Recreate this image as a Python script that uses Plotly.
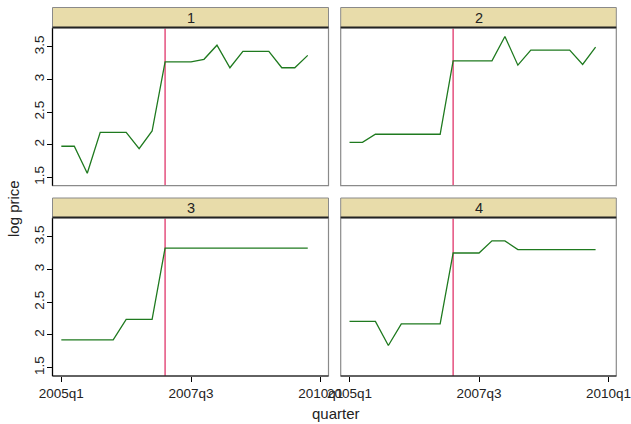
import plotly.graph_objects as go

W, H = 631, 424

quarters = ["2005q1","2005q2","2005q3","2005q4","2006q1","2006q2","2006q3","2006q4",
            "2007q1","2007q2","2007q3","2007q4","2008q1","2008q2","2008q3","2008q4",
            "2009q1","2009q2","2009q3","2009q4"]
panel_names = ["1", "2", "3", "4"]
series_1 = [1.976, 1.976, 1.561, 2.19, 2.19, 2.19, 1.94, 2.21, 3.27, 3.27,
            3.27, 3.31, 3.526, 3.18, 3.43, 3.43, 3.43, 3.18, 3.18, 3.37]
series_2 = [2.037, 2.037, 2.16, 2.16, 2.16, 2.16, 2.16, 2.16, 3.285, 3.285,
            3.285, 3.285, 3.66, 3.22, 3.45, 3.45, 3.45, 3.45, 3.23, 3.495]
series_3 = [1.925, 1.925, 1.925, 1.925, 1.925, 2.237, 2.237, 2.237, 3.33, 3.33,
            3.33, 3.33, 3.33, 3.33, 3.33, 3.33, 3.33, 3.33, 3.33, 3.33]
series_4 = [2.206, 2.206, 2.206, 1.838, 2.17, 2.17, 2.17, 2.17, 3.254, 3.254,
            3.254, 3.44, 3.44, 3.306, 3.306, 3.306, 3.306, 3.306, 3.306, 3.306]
event_quarter = "2007q1"
x_tick_labels = ["2005q1", "2007q3", "2010q1"]
x_tick_pos = [0, 10, 20]
y_tick_vals = [1.5, 2, 2.5, 3, 3.5]
y_tick_labels = ["1.5", "2", "2.5", "3", "3.5"]

all_series = [series_1, series_2, series_3, series_4]
xidx = list(range(len(quarters)))
event_idx = quarters.index(event_quarter)

FONT = "Liberation Sans, Arial, sans-serif"
GREEN = "#1f7a1f"
RED = "#e0356a"
STRIP = "#e8dcaa"
GRAY = "#8a8a8a"

# panel pixel boxes: (x0, x1, plot_top, plot_bottom, strip_top)
boxes = [
    (52.5, 328.5, 28, 185.7, 7.5),
    (340.7, 616.3, 28, 185.7, 7.5),
    (52.5, 328.5, 218, 376, 198),
    (340.7, 616.3, 218, 376, 198),
]

def px(x):
    return x / W

def py(y):
    return 1 - y / H

fig = go.Figure()
shapes = []
annotations = []

for k, (s, box) in enumerate(zip(all_series, boxes)):
    n = k + 1
    x0, x1, top, bot, stop = box
    xa = "xaxis" if n == 1 else f"xaxis{n}"
    ya = "yaxis" if n == 1 else f"yaxis{n}"
    xr = "x" if n == 1 else f"x{n}"
    yr = "y" if n == 1 else f"y{n}"
    fig.add_trace(go.Scatter(x=xidx, y=s, mode="lines", xaxis=xr, yaxis=yr,
                             line=dict(color=GREEN, width=1.3), showlegend=False,
                             hoverinfo="skip"))
    bottom_row = k >= 2
    left_col = k % 2 == 0
    fig.layout[xa] = dict(
        domain=[px(x0), px(x1)], anchor=yr, range=[-0.68, 20.6],
        showgrid=False, zeroline=False, showline=False,
        tickmode="array", tickvals=x_tick_pos, ticktext=x_tick_labels,
        showticklabels=bottom_row, ticks="outside" if bottom_row else "",
        ticklen=5, tickcolor="black", tickwidth=1,
        tickfont=dict(family=FONT, size=13.5, color="#222"),
        ticklabeloverflow="allow",
        automargin=False, fixedrange=True,
    )
    fig.layout[ya] = dict(
        domain=[py(bot), py(top)], anchor=xr, range=[1.371, 3.79],
        showgrid=False, zeroline=False, showline=False,
        tickmode="array", tickvals=y_tick_vals, ticktext=y_tick_labels,
        showticklabels=left_col, ticks="outside" if left_col else "",
        ticklen=5, tickcolor="black", tickwidth=1, tickangle=-90,
        tickfont=dict(family=FONT, size=13.5, color="#222"),
        ticklabeloverflow="allow", ticklabelstandoff=-3,
        automargin=False, fixedrange=True,
    )
    # panel frame
    shapes.append(dict(type="rect", xref="paper", yref="paper",
                       x0=px(x0), x1=px(x1), y0=py(bot), y1=py(top),
                       line=dict(color=GRAY, width=1.2), fillcolor="rgba(0,0,0,0)",
                       layer="above"))
    if left_col:
        shapes.append(dict(type="line", xref="paper", yref="paper",
                           x0=px(x0), x1=px(x0), y0=py(bot), y1=py(top),
                           line=dict(color="black", width=1.2), layer="above"))
    if bottom_row:
        shapes.append(dict(type="line", xref="paper", yref="paper",
                           x0=px(x0), x1=px(x1), y0=py(bot), y1=py(bot),
                           line=dict(color="black", width=1.2), layer="above"))
    # event line
    shapes.append(dict(type="line", xref=xr, yref=f"{yr} domain",
                       x0=event_idx, x1=event_idx, y0=0, y1=1,
                       line=dict(color=RED, width=1.3), layer="below"))
    # strip
    shapes.append(dict(type="rect", xref="paper", yref="paper",
                       x0=px(x0), x1=px(x1), y0=py(top), y1=py(stop),
                       line=dict(color=GRAY, width=1), fillcolor=STRIP, layer="above"))
    shapes.append(dict(type="line", xref="paper", yref="paper",
                       x0=px(x0), x1=px(x1), y0=py(top - 0.6), y1=py(top - 0.6),
                       line=dict(color="#222", width=1.8), layer="above"))
    annotations.append(dict(xref="paper", yref="paper", x=px((x0 + x1) / 2),
                            y=py((top + stop) / 2), text=panel_names[k],
                            showarrow=False, xanchor="center", yanchor="middle",
                            font=dict(family=FONT, size=14.5, color="#222")))

annotations.append(dict(xref="paper", yref="paper", x=px(13), y=py(209),
                        text="log price", textangle=-90, showarrow=False,
                        xanchor="center", yanchor="middle",
                        font=dict(family=FONT, size=15, color="#222")))
annotations.append(dict(xref="paper", yref="paper", x=px(336), y=py(413),
                        text="quarter", showarrow=False,
                        xanchor="center", yanchor="middle",
                        font=dict(family=FONT, size=15, color="#222")))

fig.update_layout(
    width=W, height=H, margin=dict(l=0, r=0, t=0, b=0),
    paper_bgcolor="white", plot_bgcolor="white",
    shapes=shapes, annotations=annotations, showlegend=False,
)

fig.write_html("out.html", config={"displayModeBar": False},
               post_script="document.body.style.margin='0';document.body.style.padding='0';")
